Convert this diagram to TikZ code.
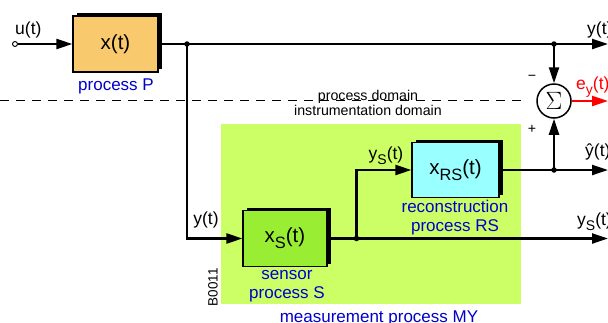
\documentclass[tikz,border=0pt]{standalone}
\usepackage{fontspec}
\setmainfont{Liberation Sans}
\usetikzlibrary{arrows.meta,shadows}
\definecolor{procP}{HTML}{F9C96E}
\definecolor{procS}{HTML}{99EE33}
\definecolor{procRS}{HTML}{99FFFF}
\definecolor{measMY}{HTML}{CCFF66}
\definecolor{lblblue}{HTML}{0000CC}
\newcommand{\lowsub}[1]{\raisebox{-0.3em}{\scalebox{0.8}{#1}}}

\begin{document}
\begin{tikzpicture}[x=1pt,y=-1pt,
    >={Triangle[length=16pt,width=10pt]},
    wire/.style={line width=2.3pt},
    blk/.style={draw, line width=1.2pt, inner sep=0pt, font=\fontsize{20.5}{22}\selectfont,
      drop shadow={shadow xshift=4pt, shadow yshift=3pt, fill=black, opacity=1}},
    lbl/.style={font=\fontsize{17.5}{19}\selectfont, inner sep=0pt},
    bluelbl/.style={font=\fontsize{17}{19}\selectfont, text=lblblue, inner sep=0pt, align=center},
    dom/.style={font=\fontsize{14.2}{16}\selectfont, inner sep=0pt},
    jdot/.style={circle, fill, inner sep=0pt, minimum size=5.5pt}]
    \useasboundingbox (0,0) rectangle (608,322);
    \clip (0,0) rectangle (608,322);

    % measurement area and domain border
    \node[fill=measMY, inner sep=0pt, minimum width=300pt, minimum height=180pt] (MY) at (371,214) {};
    \draw[line width=1.1pt, dash pattern=on 9pt off 7pt] (0,100.5) -- (522,100.5);
    \node[dom, anchor=base] (pdom) at (368,100.8) {process domain};
    \node[dom, anchor=base] (idom) at (368,115.5) {instrumentation domain};

    % blocks
    \node[circle, draw, fill=white, line width=0.9pt, inner sep=0pt, minimum size=5pt] (u) at (15,44) {};
    \node[blk, fill=procP, minimum width=85pt, minimum height=56pt] (P) at (115.5,44) {x(t)};
    \node[blk, fill=procS, minimum width=84pt, minimum height=56pt] (S) at (285,238.5) {x\lowsub{S}(t)};
    \node[blk, fill=procRS, minimum width=87pt, minimum height=55pt] (RS) at (455.5,170) {x\lowsub{RS}(t)};
    \node[circle, draw, fill=white, line width=1.5pt, minimum size=34pt, inner sep=0pt] (sum) at (554,101) {\scalebox{1.45}{\fontsize{17}{17}\selectfont$\Sigma$}};

    % branch points and outputs
    \coordinate (j1) at (187,44);
    \coordinate (j2) at (356.5,238.5);
    \coordinate (j3) at (554,44);
    \coordinate (j4) at (554,170);
    \coordinate (yout) at (608,44);
    \coordinate (eout) at (608,101);
    \coordinate (yhout) at (608,170);
    \coordinate (ysout) at (608,238.5);

    \draw[wire,->] (u) -- (P);
    \draw[wire,->] (P) -- (yout);
    \draw[wire,->] (j1) |- (S);
    \draw[wire,->] (S) -- (ysout);
    \draw[wire,->] (j2) |- (RS);
    \draw[wire,->] (RS) -- (yhout);
    \draw[wire,->] (j3) -- (sum);
    \draw[wire,->] (j4) -- (sum);
    \draw[wire,->,red] (sum) -- (eout);
    \foreach \j in {j1,j2,j3,j4} \node[jdot] at (\j) {};

    % labels
    \node[lbl, anchor=west] (ulbl) at (15,30) {u(t)};
    \node[bluelbl] (Plbl) at (116,86) {process P};
    \node[lbl, anchor=west] (ylbl) at (587,30) {y(t)};
    \node[lbl] (ylbl2) at (206,220) {y(t)};
    \node[bluelbl] (Slbl) at (287,286.5) {sensor\\process S};
    \node[lbl] (yslbl) at (386,156) {y\lowsub{S}(t)};
    \node[bluelbl] (RSlbl) at (455,218) {reconstruction\\process RS};
    \node[font=\fontsize{13.5}{14}\selectfont, rotate=90, inner sep=0pt] (code) at (213,287) {B0011};
    \node[bluelbl, anchor=base] (MYlbl) at (379,322.5) {measurement process MY};
    \node[dom] (minus) at (532,78) {\textminus};
    \node[dom] (plus) at (532,129) {+};
    \node[lbl, text=red, anchor=west] (elbl) at (576,87) {e\lowsub{y}(t)};
    \node[lbl, anchor=west] (yhlbl) at (585,152) {ŷ(t)};
    \node[lbl, anchor=west] (ysolbl) at (577,222) {y\lowsub{S}(t)};
\end{tikzpicture}
\end{document}
